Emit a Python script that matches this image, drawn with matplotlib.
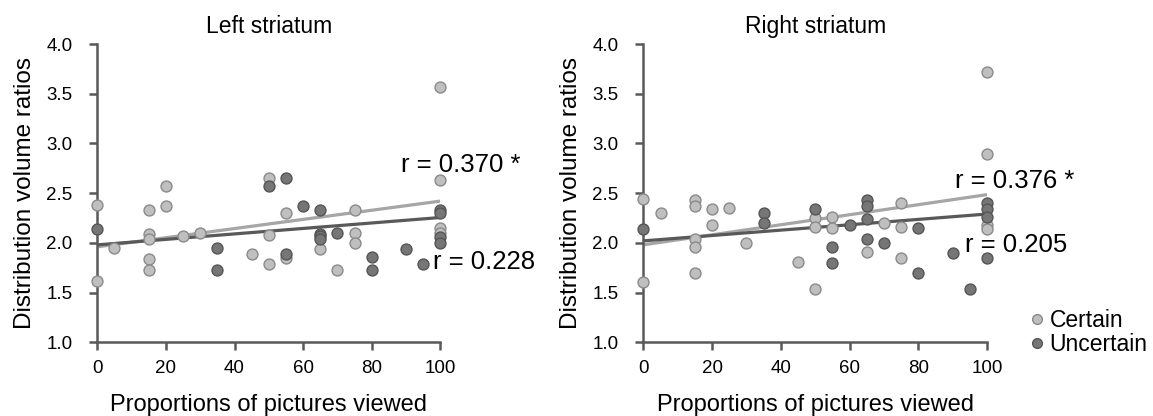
import numpy as np
import matplotlib.pyplot as plt
from matplotlib.lines import Line2D

plt.rcParams['font.family'] = ['Liberation Sans', 'DejaVu Sans']

# ---- data ----
left_certain_x = [0, 0, 5, 15, 15, 15, 15, 15, 20, 20, 25, 30, 45, 50, 50, 50,
                  55, 55, 65, 70, 75, 75, 75, 100, 100, 100, 100]
left_certain_y = [2.38, 1.62, 1.95, 2.33, 2.09, 2.04, 1.84, 1.73, 2.57, 2.37, 2.07,
                  2.10, 1.89, 2.65, 2.08, 1.79, 2.30, 1.85, 1.94, 1.73, 2.33, 2.10,
                  2.00, 3.57, 2.63, 2.15, 2.10]
left_uncertain_x = [0, 35, 35, 50, 55, 55, 60, 65, 65, 65, 65, 70, 80, 80, 90, 95,
                    100, 100, 100, 100]
left_uncertain_y = [2.14, 1.95, 1.73, 2.57, 2.65, 1.89, 2.37, 2.33, 2.09, 2.07, 2.04,
                    2.10, 1.86, 1.73, 1.94, 1.79, 2.33, 2.30, 2.06, 2.00]

right_certain_x = [0, 0, 5, 15, 15, 15, 15, 15, 20, 20, 25, 30, 45, 50, 50, 50,
                   55, 55, 65, 70, 75, 75, 75, 100, 100, 100, 100]
right_certain_y = [2.44, 1.61, 2.30, 2.43, 2.37, 2.04, 1.96, 1.70, 2.34, 2.18, 2.35,
                   2.00, 1.81, 2.25, 2.16, 1.54, 2.26, 2.15, 1.91, 2.20, 2.40, 2.16,
                   1.85, 3.72, 2.89, 2.18, 2.14]
right_uncertain_x = [0, 35, 35, 50, 55, 55, 60, 65, 65, 65, 65, 70, 80, 80, 90, 95,
                     100, 100, 100, 100]
right_uncertain_y = [2.14, 2.30, 2.20, 2.34, 1.96, 1.80, 2.18, 2.43, 2.37, 2.24, 2.04,
                     2.00, 2.15, 1.70, 1.90, 1.54, 2.40, 2.34, 2.26, 1.85]

# trend lines as printed in the figure (value at x = 0 and x = 100)
fit_x = [0, 100]
fit_left_certain = [1.96, 2.42]
fit_left_uncertain = [1.98, 2.255]
fit_right_certain = [1.98, 2.485]
fit_right_uncertain = [2.02, 2.29]

titles = ['Left striatum', 'Right striatum']
r_certain = ['r = 0.370 *', 'r = 0.376 *']
r_uncertain = ['r = 0.228', 'r = 0.205']

# colours
c_fill, c_edge, c_line = '#bfbfbf', '#8a8a8a', '#a6a6a6'
u_fill, u_edge, u_line = '#767676', '#555555', '#595959'
axis_col = '#595959'

fig = plt.figure(figsize=(11.53, 4.16), dpi=100)
ax_l = fig.add_axes([0.0844, 0.1772, 0.2975, 0.7170])
ax_r = fig.add_axes([0.5580, 0.1772, 0.2981, 0.7170])

panels = [
    (ax_l, left_certain_x, left_certain_y, left_uncertain_x, left_uncertain_y,
     fit_left_certain, fit_left_uncertain, (88.5, 2.78), (97.9, 1.81)),
    (ax_r, right_certain_x, right_certain_y, right_uncertain_x, right_uncertain_y,
     fit_right_certain, fit_right_uncertain, (90.7, 2.62), (93.6, 1.98)),
]

for i, (ax, cx, cy, ux, uy, fc, fu, pos_c, pos_u) in enumerate(panels):
    ax.plot(fit_x, fc, color=c_line, lw=2.3, zorder=2, solid_capstyle='butt')
    ax.plot(fit_x, fu, color=u_line, lw=2.3, zorder=2, solid_capstyle='butt')

    ax.scatter(cx, cy, s=62, c=c_fill, edgecolors=c_edge, linewidths=1.0,
               zorder=3, clip_on=False)
    ax.scatter(ux, uy, s=62, c=u_fill, edgecolors=u_edge, linewidths=1.0,
               zorder=4, clip_on=False)

    ax.text(pos_c[0], pos_c[1], r_certain[i], fontsize=18.5, va='center', ha='left')
    ax.text(pos_u[0], pos_u[1], r_uncertain[i], fontsize=18.5, va='center', ha='left')

    ax.set_xlim(0, 100)
    ax.set_ylim(1, 4)
    ax.set_xticks(np.arange(0, 101, 20))
    ax.set_yticks(np.arange(1, 4.01, 0.5))
    ax.set_yticklabels([f'{v:.1f}' for v in np.arange(1, 4.01, 0.5)])
    ax.tick_params(direction='out', length=6, width=1.8, color=axis_col,
                   labelsize=13.5)
    ax.tick_params(axis='y', pad=12)
    ax.tick_params(axis='x', pad=7)
    for s in ['top', 'right']:
        ax.spines[s].set_visible(False)
    for s in ['left', 'bottom']:
        ax.spines[s].set_color(axis_col)
        ax.spines[s].set_linewidth(1.8)
    ax.set_title(titles[i], fontsize=16.5, pad=8)
    ax.set_xlabel('Proportions of pictures viewed', fontsize=17, labelpad=12)
    ax.set_ylabel('Distribution volume ratios', fontsize=17.5, labelpad=7)

handles = [
    Line2D([], [], ls='none', marker='o', ms=7, mfc=c_fill, mec=c_edge, mew=1.0),
    Line2D([], [], ls='none', marker='o', ms=7, mfc=u_fill, mec=u_edge, mew=1.0),
]
fig.legend(handles, ['Certain', 'Uncertain'], loc='center left',
           bbox_to_anchor=(0.8915, 0.200), frameon=False, fontsize=16.5,
           handlelength=0.8, handletextpad=0.15, labelspacing=0.05, borderpad=0,
           borderaxespad=0)

fig.savefig('out.png', dpi=100)
